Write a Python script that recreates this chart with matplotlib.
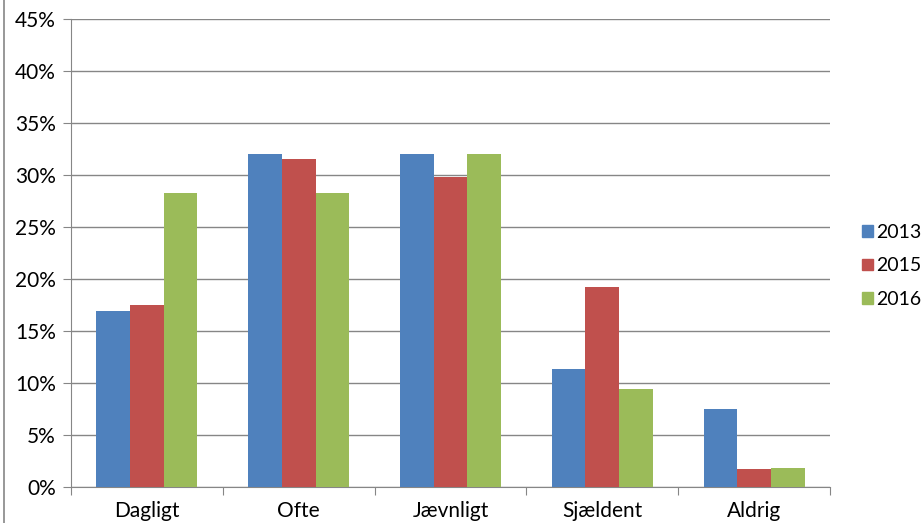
import numpy as np
import matplotlib.pyplot as plt
from matplotlib.lines import Line2D
from matplotlib.patches import Patch

plt.rcParams['font.family'] = ['Lato', 'DejaVu Sans']

categories = ["Dagligt", "Ofte", "Jævnligt", "Sjældent", "Aldrig"]
years = ["2013", "2015", "2016"]
v2013 = [16.9, 32.0, 32.0, 11.3, 7.5]
v2015 = [17.5, 31.5, 29.8, 19.2, 1.7]
v2016 = [28.3, 28.3, 32.0, 9.4, 1.8]
colors = ["#4f81bd", "#c0504d", "#9bbb59"]
grid_col = "#868686"
fs = 15

fig = plt.figure(figsize=(9.24, 5.23), dpi=100)
ax = fig.add_axes([71 / 924, 1 - 487 / 523, (830 - 71) / 924, (487 - 19) / 523])

x = np.arange(len(categories))
w = 0.222
for i, vals in enumerate([v2013, v2015, v2016]):
    ax.bar(x + (i - 1) * w, vals, w, color=colors[i], zorder=3, label=years[i])

ax.set_xlim(-0.5, len(categories) - 0.5)
ax.set_ylim(0, 45)
ax.set_yticks(np.arange(0, 46, 5))
ax.set_yticklabels([f"{t}%" for t in range(0, 46, 5)], fontsize=fs)
ax.yaxis.grid(True, color=grid_col, linewidth=1, zorder=0)

# category ticks at the boundaries, labels in the middle
ax.set_xticks(np.arange(-0.5, len(categories), 1))
ax.set_xticklabels([])
ax.set_xticks(x, minor=True)
ax.set_xticklabels(categories, minor=True, fontsize=fs)
ax.tick_params(axis='x', which='major', length=6, color=grid_col, direction='out')
ax.tick_params(axis='x', which='minor', length=0, pad=10)
ax.tick_params(axis='y', length=6, color=grid_col, pad=5)

for s in ['top', 'right']:
    ax.spines[s].set_visible(False)
ax.spines['left'].set_color(grid_col)
ax.spines['bottom'].set_color(grid_col)

handles = [Patch(color=c) for c in colors]
fig.legend(handles, years, loc='center left', bbox_to_anchor=(862 / 924, 1 - 266 / 523),
           frameon=False, fontsize=14, handlelength=0.55, handleheight=0.55,
           handletextpad=0.2, labelspacing=0.85, borderpad=0, borderaxespad=0)

# chart border on the left
fig.add_artist(Line2D([4 / 924, 4 / 924], [0, 1], transform=fig.transFigure,
                      color=grid_col, linewidth=1.2))

fig.savefig("out.png", dpi=100)
